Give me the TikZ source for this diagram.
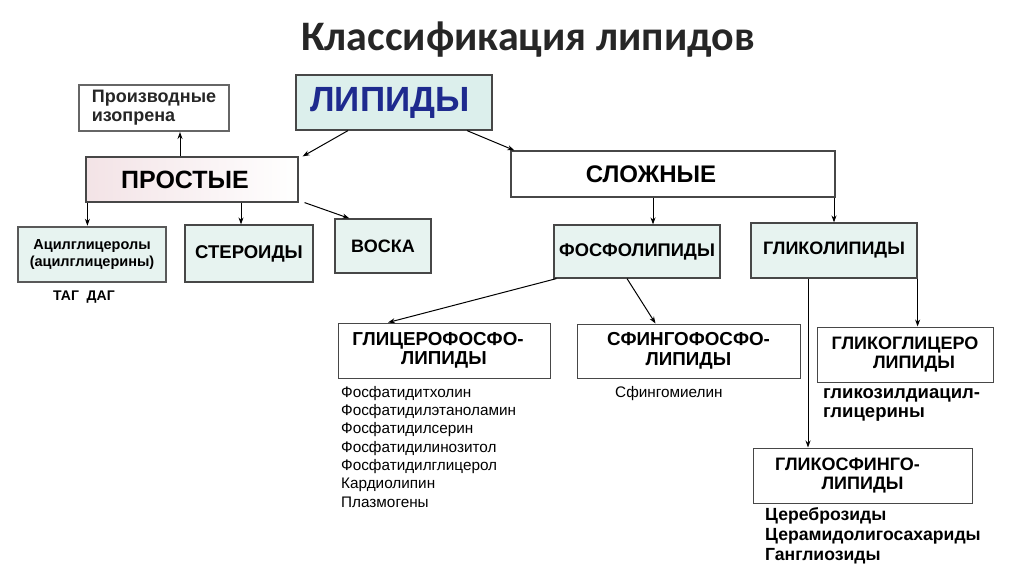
\documentclass[tikz,border=0pt]{standalone}
\usepackage{fontspec}
\setmainfont{Liberation Sans}
\newfontfamily\titlefont{Carlito}
\usetikzlibrary{positioning,calc,arrows.meta}

\definecolor{edge}{HTML}{474747}
\definecolor{lipfill}{HTML}{DCEFEC}
\definecolor{tealfill}{HTML}{E7F3F0}
\definecolor{pinkfill}{HTML}{F3E3E6}
\definecolor{lipblue}{HTML}{1E2A8E}
\newcommand{\fs}[1]{\fontsize{#1}{1.15\dimexpr#1pt\relax}\selectfont}

\tikzset{
  box/.style={draw=edge, line width=1.2pt, fill=white, inner sep=0pt, align=center, font=\bfseries},
  tealbox/.style={box, fill=tealfill},
  plainbox/.style={box, line width=1pt},
  arr/.style={-{Stealth[length=7pt,width=5pt]}, line width=1pt, black},
  listtext/.style={anchor=north west, inner sep=0pt, align=left}
}

\begin{document}
\begin{tikzpicture}[x=1pt,y=-1pt]
\useasboundingbox (0,0) rectangle (1024,574);

%% Title
\node[font=\titlefont\bfseries\fs{42}, text=black!85] (title) at (528,40) {Классификация липидов};

%% Top level
\node[box, fill=lipfill, minimum width=196pt, minimum height=55pt,
      font=\bfseries\fs{35}, text=lipblue] (lipidy) at (394,102.5) {ЛИПИДЫ\hspace*{8pt}};
\node[box, draw=gray!80!black, line width=2pt, minimum width=150pt, minimum height=46pt,
      align=left, font=\bfseries\fontsize{18}{19}\selectfont, text=black!85] (izopren) at (154,108)
      {Производные\\изопрена};
\node[box, left color=pinkfill, right color=white, minimum width=212pt, minimum height=45pt,
      font=\bfseries\fs{25}] (prostye) at (192,179.5) {ПРОСТЫЕ\hspace*{14pt}};
\node[box, minimum width=324pt, minimum height=46pt,
      font=\bfseries\fs{24}] (slozhnye) at (673,174) {СЛОЖНЫЕ\hspace*{44pt}};

%% Simple lipids
\node[tealbox, draw=gray!70!black, line width=2.5pt, minimum width=148pt, minimum height=55pt,
      font=\bfseries\fontsize{14.5}{17}\selectfont] (acyl) at (92,254.5)
      {Ацилглицеролы\\(ацилглицерины)};
\node[tealbox, minimum width=128pt, minimum height=57pt, font=\bfseries\fs{18.5}] (steroid) at (249,253.5) {СТЕРОИДЫ};
\node[tealbox, minimum width=96pt, minimum height=54pt, font=\bfseries\fs{18}] (voska) at (383,246) {ВОСКА};
\node[font=\bfseries\fs{14}] (tag) at (84,297) {ТАГ\ \ ДАГ};

%% Complex lipids
\node[tealbox, minimum width=166pt, minimum height=53pt, font=\bfseries\fs{18.3}] (fosfo) at (637,251.5) {ФОСФОЛИПИДЫ};
\node[tealbox, minimum width=166pt, minimum height=55pt, font=\bfseries\fs{18}] (gliko) at (834,250.5) {ГЛИКОЛИПИДЫ};

%% Phospholipids
\node[plainbox, minimum width=212pt, minimum height=55pt, font=\bfseries\fontsize{18.8}{19.5}\selectfont] (glycero) at (444,350.5)
      {ГЛИЦЕРОФОСФО-\hspace*{12pt}\\ЛИПИДЫ};
\node[plainbox, minimum width=223pt, minimum height=54pt, font=\bfseries\fontsize{18.8}{19.5}\selectfont] (sfingo) at (688.5,351)
      {СФИНГОФОСФО-\\ЛИПИДЫ};
\node[listtext, font=\fontsize{15.3}{18.3}\selectfont] (glylist) at (341,386)
      {Фосфатидитхолин\\Фосфатидилэтаноламин\\Фосфатидилсерин\\Фосфатидилинозитол\\Фосфатидилглицерол\\Кардиолипин\\Плазмогены};
\node[listtext, font=\fontsize{15.3}{18.3}\selectfont] (sflist) at (615,386) {Сфингомиелин};

%% Glycolipids
\node[plainbox, minimum width=176pt, minimum height=55pt, font=\bfseries\fontsize{18}{19.5}\selectfont] (glikogl) at (905,354.5)
      {ГЛИКОГЛИЦЕРО\\\hspace*{18pt}ЛИПИДЫ};
\node[plainbox, minimum width=219pt, minimum height=55pt, font=\bfseries\fontsize{18}{19.5}\selectfont] (glikosf) at (862.5,475.5)
      {ГЛИКОСФИНГО-\hspace*{30pt}\\ЛИПИДЫ};
\node[listtext, font=\bfseries\fontsize{18.5}{19.5}\selectfont] (gllist) at (823,388)
      {гликозилдиацил-\\глицерины};
\node[listtext, font=\bfseries\fontsize{17.6}{20.3}\selectfont] (sflist2) at (765,507)
      {Цереброзиды\\Церамидолигосахариды\\Ганглиозиды};

%% Arrows
\draw[arr] ([xshift=-46pt]lipidy.south) -- ([xshift=4pt]prostye.north east);
\draw[arr] ([xshift=73pt]lipidy.south) -- ([xshift=4pt]slozhnye.north west);
\draw[arr] ([xshift=-12pt]prostye.north) -- ([xshift=-12pt]prostye.north |- izopren.south);
\draw[arr] ([xshift=2pt]prostye.south west) -- ([xshift=2pt]prostye.south west |- acyl.north);
\draw[arr] ([xshift=-8pt]steroid.north |- prostye.south) -- ([xshift=-8pt]steroid.north);
\draw[arr] ([xshift=6pt]prostye.south east) -- ([xshift=15pt]voska.north west);
\draw[arr] ([xshift=16pt]fosfo.north |- slozhnye.south) -- ([xshift=16pt]fosfo.north);
\draw[arr] (gliko.north |- slozhnye.south) -- (gliko.north);
\draw[arr] ([xshift=3pt]fosfo.south west) -- ([xshift=-56pt]glycero.north);
\draw[arr] ([xshift=-10pt]fosfo.south) -- ([xshift=-33pt]sfingo.north);
\draw[arr] ([xshift=-26pt]gliko.south) -- ([xshift=-26pt]gliko.south |- glikosf.north);
\draw[arr] (gliko.south east) -- (gliko.south east |- glikogl.north);
\end{tikzpicture}
\end{document}
